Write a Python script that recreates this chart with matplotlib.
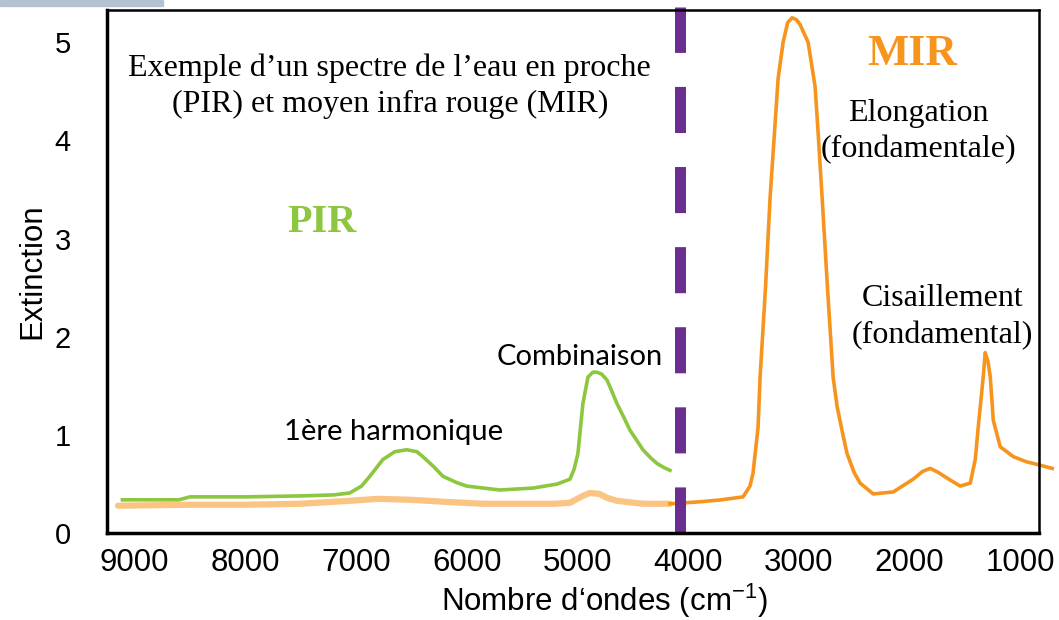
import matplotlib.pyplot as plt
from matplotlib.patches import Rectangle
import numpy as np

# Spectre de l'eau : proche IR (vert) et moyen IR (orange)
pir_x = [9110, 8600, 8500, 8000, 7500, 7200, 7056, 6950, 6875, 6757, 6650, 6541,
         6450, 6396, 6300, 6215, 6100, 6000, 5850, 5700, 5550, 5400, 5185, 5067,
         5030, 4995, 4950, 4904, 4860, 4823, 4780, 4732, 4690, 4642, 4580, 4525,
         4460, 4407, 4340, 4280, 4220, 4163]
pir_y = [0.34, 0.34, 0.37, 0.37, 0.38, 0.39, 0.41, 0.48, 0.58, 0.75, 0.83, 0.85,
         0.83, 0.78, 0.68, 0.58, 0.52, 0.48, 0.46, 0.44, 0.45, 0.46, 0.50, 0.55,
         0.65, 0.81, 1.32, 1.59, 1.64, 1.64, 1.62, 1.56, 1.45, 1.32, 1.18, 1.05,
         0.94, 0.85, 0.77, 0.71, 0.67, 0.64]

mir_x = [9150, 8500, 8000, 7500, 7056, 6800, 6500, 6200, 5854, 5500, 5200, 5067,
         4950, 4886, 4800, 4732, 4642, 4407, 4163, 3891, 3700, 3503, 3440, 3413,
         3367, 3349, 3300, 3259, 3186, 3141, 3100, 3060, 3020, 2987, 2915, 2852,
         2825, 2788, 2740, 2689, 2653, 2600, 2563, 2500, 2445, 2327, 2146, 1966,
         1880, 1812, 1740, 1658, 1541, 1450, 1405, 1378, 1333, 1315, 1290, 1269,
         1242, 1179, 1061, 950, 844, 709]
mir_y = [0.28, 0.29, 0.29, 0.30, 0.33, 0.35, 0.34, 0.32, 0.30, 0.30, 0.30, 0.31,
         0.38, 0.41, 0.40, 0.36, 0.33, 0.30, 0.30, 0.32, 0.34, 0.37, 0.48, 0.61,
         1.08, 1.59, 2.50, 3.41, 4.63, 5.00, 5.20, 5.25, 5.23, 5.18, 5.00, 4.55,
         4.09, 3.41, 2.50, 1.59, 1.29, 1.00, 0.81, 0.62, 0.51, 0.40, 0.42, 0.55,
         0.63, 0.66, 0.62, 0.56, 0.48, 0.51, 0.75, 1.08, 1.59, 1.84, 1.75, 1.59,
         1.15, 0.88, 0.78, 0.73, 0.70, 0.66]

x_ticks = [9000, 8000, 7000, 6000, 5000, 4000, 3000, 2000, 1000]
y_ticks = [0, 1, 2, 3, 4, 5]
separation = 4072

GREEN = '#8dc63f'
ORANGE = '#f7941d'
PURPLE = '#6b2d90'

plt.rcParams['mathtext.fontset'] = 'custom'
plt.rcParams['mathtext.rm'] = 'Liberation Sans'
plt.rcParams['mathtext.it'] = 'Liberation Sans'

fig = plt.figure(figsize=(10.59, 6.2), dpi=100)
ax = fig.add_axes([0.101, 0.140, 0.880, 0.844])

# bande grise en haut a gauche
fig.patches.append(Rectangle((0, 0.99), 0.154, 0.01, transform=fig.transFigure,
                             color='#b3c2d1', zorder=0))

mx = np.array(mir_x)
my = np.array(mir_y)
left = mx >= 4163
right = mx <= 4163
ax.plot(mx[left], my[left], color=ORANGE, lw=4.5, alpha=0.55, solid_capstyle='round')
ax.plot(mx[right], my[right], color=ORANGE, lw=2.6, clip_on=False)
ax.plot(pir_x, pir_y, color=GREEN, lw=2.6)

ax.axvline(separation, ymin=0, ymax=1.005, color=PURPLE, lw=7.9,
           dashes=(4.2, 3.1), clip_on=False)

ax.set_xlim(9250, 830)
ax.set_ylim(0.04, 5.33)
ax.set_xticks(x_ticks)
ax.set_xticklabels([str(v) for v in x_ticks], family='Liberation Sans', fontsize=22.5)
ax.set_yticks(y_ticks)
ax.set_yticklabels([str(v) for v in y_ticks], family='Liberation Sans', fontsize=21)
ax.tick_params(axis='x', length=0, pad=11)
ax.tick_params(axis='y', length=0, pad=26)
ax.set_ylabel('Extinction', family='Liberation Sans', fontsize=22.5, labelpad=5)

# titre d'axe x place sous les graduations
fig.text(604 / 1059, 1 - 611 / 620, 'Nombre d\u2018ondes (cm$^{-1}$)',
         family='Liberation Sans', fontsize=22.5, ha='center', va='baseline')

for side in ['left', 'bottom']:
    ax.spines[side].set_linewidth(2.5)
for side in ['top', 'right']:
    ax.spines[side].set_linewidth(1.8)

serif = 'Liberation Serif'
ax.text(6694, 4.55, 'Exemple d\u2019un spectre de l\u2019eau en proche\n'
        '(PIR) et moyen infra rouge (MIR)', family=serif, fontsize=23,
        ha='center', va='center', linespacing=1.3)
ax.text(7309, 3.16, 'PIR', family=serif, fontsize=29, fontweight='bold',
        color=GREEN, ha='center', va='center')
ax.text(1975, 4.88, 'MIR', family=serif, fontsize=31.5, fontweight='bold',
        color=ORANGE, ha='center', va='center')
ax.text(1921, 4.09, 'Elongation\n(fondamentale)', family=serif, fontsize=23,
        ha='center', va='center', linespacing=1.35)
ax.text(1704, 2.20, 'Cisaillement\n(fondamental)', family=serif, fontsize=23,
        ha='center', va='center', linespacing=1.35)
ax.text(4976, 1.79, 'Combinaison', family='Lato', fontsize=21,
        ha='center', va='center')
ax.text(6658, 1.03, '1\u00e8re harmonique', family='Lato', fontsize=21,
        ha='center', va='center')

fig.savefig('out.png', dpi=100)
